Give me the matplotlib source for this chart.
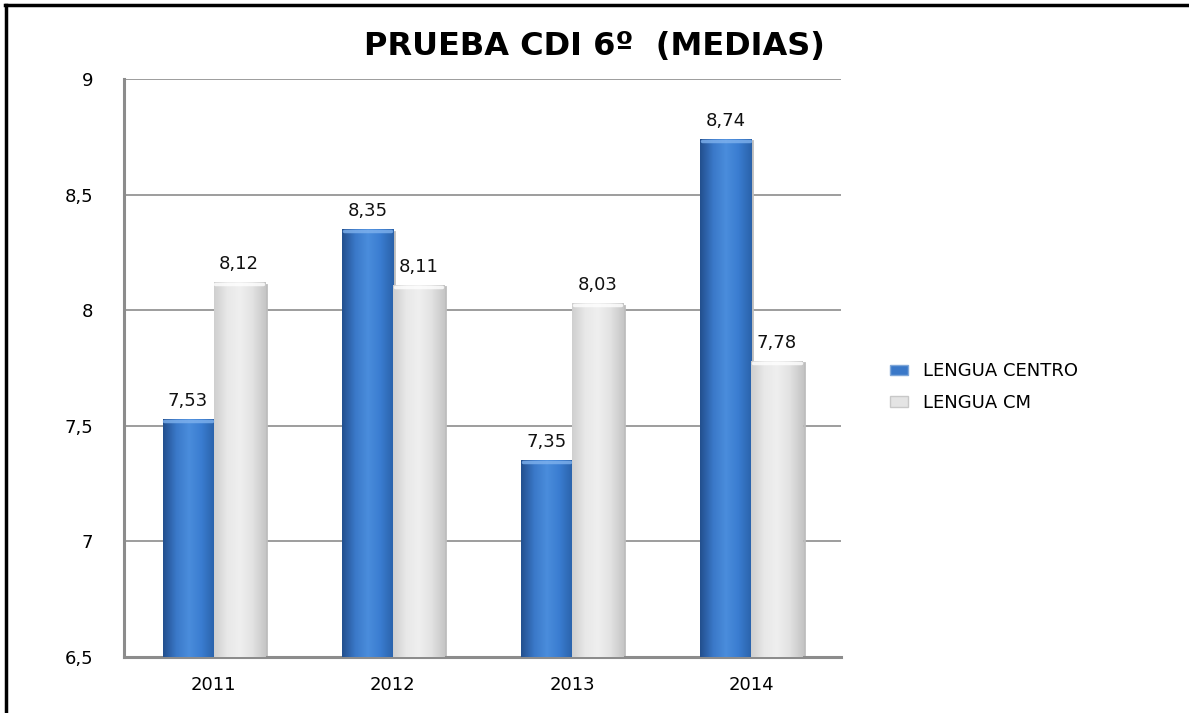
import numpy as np
import matplotlib.pyplot as plt
from matplotlib.colors import LinearSegmentedColormap
from matplotlib.lines import Line2D

# Datos
years = ['2011', '2012', '2013', '2014']
centro = [7.53, 8.35, 7.35, 8.74]
cm = [8.12, 8.11, 8.03, 7.78]
series_names = ['LENGUA CENTRO', 'LENGUA CM']
title = 'PRUEBA CDI 6º  (MEDIAS)'

# Colores tipo cilindro (degradado horizontal)
blue_cmap = LinearSegmentedColormap.from_list(
    'blue', ['#23508f', '#3a78c8', '#4a8ddc', '#3a7cd0', '#2a62aa'])
grey_cmap = LinearSegmentedColormap.from_list(
    'grey', ['#cfcfcf', '#e8e8e8', '#efefef', '#e2e2e2', '#c6c6c6'])

fig = plt.figure(figsize=(11.89, 7.13), dpi=100)
ax = fig.add_axes([0.1043, 0.0785, 0.603, 0.8107])

ymin, ymax = 6.5, 9
bar_w = 0.285
x = np.arange(len(years))
grad = np.linspace(0, 1, 64).reshape(1, -1)


def gradient_bars(xs, values, cmap, edge):
    bars = ax.bar(xs, [v - ymin for v in values], bar_w, bottom=ymin,
                  color='none', edgecolor='none', zorder=3)
    for b in bars:
        x0, w = b.get_x(), b.get_width()
        top = b.get_y() + b.get_height()
        im = ax.imshow(grad, cmap=cmap, aspect='auto',
                       extent=[x0, x0 + w, ymin, top], zorder=3)
        im.set_clip_path(b)
        # sombra lateral
        ax.plot([x0 + w + 0.006, x0 + w + 0.006], [ymin, top - 0.01],
                color='#bdbdbd', lw=2, zorder=2)
        # brillo superior
        ax.plot([x0 + 0.01, x0 + w - 0.01], [top - 0.008, top - 0.008],
                color=edge, lw=2.5, alpha=0.8, zorder=4, solid_capstyle='round')
    return bars


b1 = gradient_bars(x - bar_w / 2, centro, blue_cmap, '#7fb2ee')
b2 = gradient_bars(x + bar_w / 2, cm, grey_cmap, '#ffffff')

# Etiquetas de datos
for xs, vals in [(x - bar_w / 2, centro), (x + bar_w / 2, cm)]:
    for xi, v in zip(xs, vals):
        ax.text(xi, v + 0.04, f'{v:.2f}'.replace('.', ','),
                ha='center', va='bottom', fontsize=13, color='#111111', zorder=5)

ax.set_xlim(-0.5, len(years) - 0.5)
ax.set_ylim(ymin, ymax)
ax.set_xticks(x)
ax.set_xticklabels(years)
yt = np.arange(6.5, 9.01, 0.5)
ax.set_yticks(yt)
ax.set_yticklabels([f'{t:g}'.replace('.', ',') for t in yt])
ax.tick_params(length=0, labelsize=13)
ax.tick_params(axis='y', pad=22)
ax.tick_params(axis='x', pad=14)
ax.grid(axis='y', color='#8c8c8c', lw=1.2, zorder=1)
for s in ['top', 'right']:
    ax.spines[s].set_visible(False)
for s in ['left', 'bottom']:
    ax.spines[s].set_color('#8c8c8c')
    ax.spines[s].set_linewidth(2.2)

fig.text(0.5, 0.935, title, ha='center', va='center',
         fontsize=23, fontweight='bold')

handles = [
    plt.Rectangle((0, 0), 1, 1, fc='#3a78c8', ec='#7fa7d8'),
    plt.Rectangle((0, 0), 1, 1, fc='#e4e4e4', ec='#c8c8c8'),
]
fig.legend(handles, series_names, loc='center left',
           bbox_to_anchor=(0.735, 0.457), frameon=False, fontsize=13,
           handlelength=1.0, handleheight=0.55, labelspacing=0.75,
           handletextpad=0.8)

# Marco (solo superior e izquierdo visibles)
fig.add_artist(Line2D([0.0045, 1.0], [0.993, 0.993], color='black', lw=2.5,
                      transform=fig.transFigure))
fig.add_artist(Line2D([0.005, 0.005], [0.0, 0.993], color='black', lw=2.5,
                      transform=fig.transFigure))

fig.savefig('out.png', dpi=100)
